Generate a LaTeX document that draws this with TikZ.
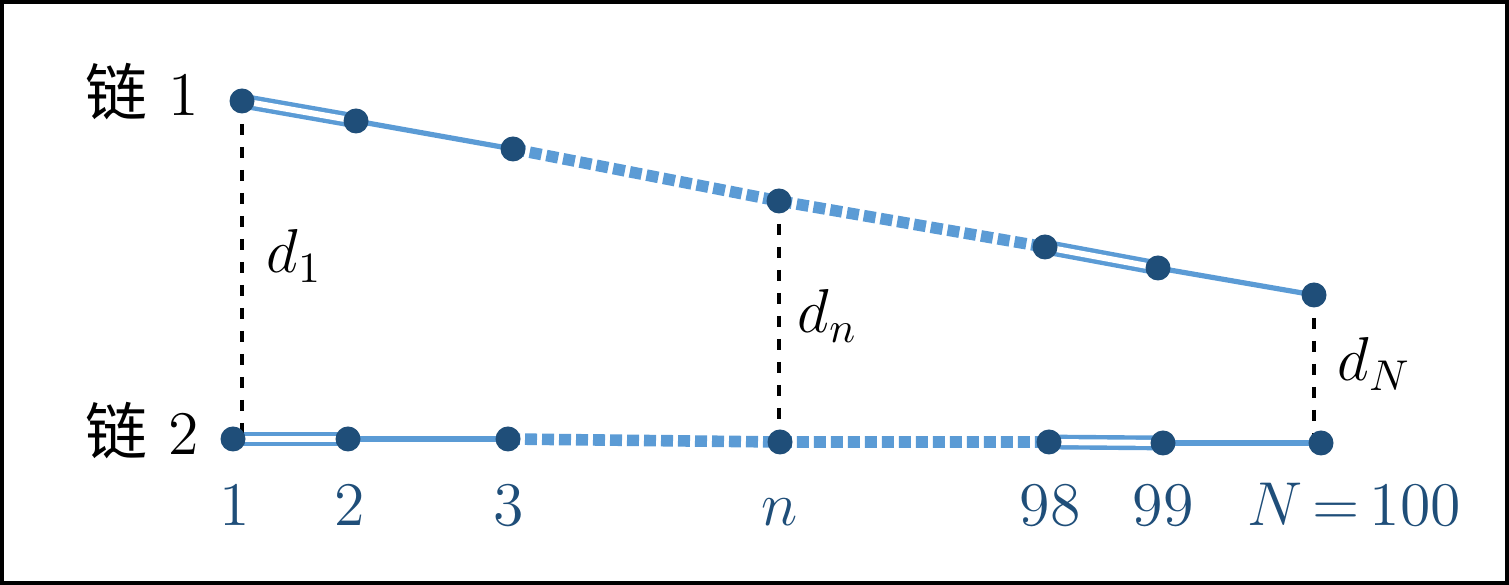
\documentclass[tikz,border=0pt]{standalone}
\usepackage{fontspec}
\newfontfamily\cjk{Noto Sans CJK SC}
\definecolor{dotblue}{HTML}{1F4E79}
\definecolor{lineblue}{HTML}{5B9BD5}
\begin{document}
\begin{tikzpicture}[x=0.25pt,y=-0.25pt,
  dotst/.style={circle,fill=dotblue,minimum size=6.25pt,inner sep=0pt},
  single/.style={draw=lineblue,line width=1.3pt},
  dbl/.style={draw=lineblue,line width=1.1pt,double=white,double distance=1.5pt},
  thick dash/.style={draw=lineblue,line width=2.9pt,dash pattern=on 3pt off 1.25pt},
  dist/.style={draw=black,line width=1pt,dash pattern=on 2.75pt off 3pt},
  lab/.style={font=\Large,scale=1.076,inner sep=0pt},
  blab/.style={lab,text=dotblue,anchor=base}]
\useasboundingbox (0,0) rectangle (1509,585);
\draw[line width=1pt] (2,2) rectangle (1507,583);
% chain 1 coordinates
\coordinate (a1) at (242,101);
\coordinate (a2) at (356,121);
\coordinate (a3) at (513,149);
\coordinate (an) at (779,201);
\coordinate (a98) at (1045,247);
\coordinate (a99) at (1158,268);
\coordinate (a100) at (1314,295);
% chain 2 coordinates
\coordinate (b1) at (233,439);
\coordinate (b2) at (348,439);
\coordinate (b3) at (508,439);
\coordinate (bn) at (780,442);
\coordinate (b98) at (1049,442);
\coordinate (b99) at (1163,443);
\coordinate (b100) at (1321,443);
% chain lines
\draw[dbl] (a1) -- (a2);
\draw[single] (a2) -- (a3);
\draw[thick dash] (a3) -- (an) -- (a98);
\draw[dbl] (a98) -- (a99);
\draw[single] (a99) -- (a100);
\draw[dbl] (b1) -- (b2);
\draw[single] (b2) -- (b3);
\draw[thick dash] (b3) -- (bn) -- (b98);
\draw[dbl] (b98) -- (b99);
\draw[single] (b99) -- (b100);
% distances
\draw[dist] (a1) -- (a1 |- b1);
\draw[dist] (an) -- (an |- bn);
\draw[dist] (a100) -- (a100 |- b100);
% dots
\foreach \p in {a1,a2,a3,an,a98,a99,a100,b1,b2,b3,bn,b98,b99,b100}
  \node[dotst] (d\p) at (\p) {};
% labels
\node[lab,anchor=base west] (c1) at (85,116) {{\cjk 链}\ 1};
\node[lab,anchor=base west] (c2) at (85,455) {{\cjk 链}\ 2};
\node[lab,anchor=base west] (l1) at (266,273) {$d_1$};
\node[lab,anchor=base west] (ln) at (797,333) {$d_n$};
\node[lab,anchor=base west] (lN) at (1337,381) {$d_N$};
\node[blab] (n1) at (235,526) {1};
\node[blab] (n2) at (350,526) {2};
\node[blab] (n3) at (509,526) {3};
\node[blab] (nn) at (780,526) {$n$};
\node[blab] (n98) at (1050,526) {98};
\node[blab] (n99) at (1163,526) {99};
\node[blab] (n100) at (1354,526) {$N\mkern-2mu=\mkern-2mu100$};
\end{tikzpicture}
\end{document}
